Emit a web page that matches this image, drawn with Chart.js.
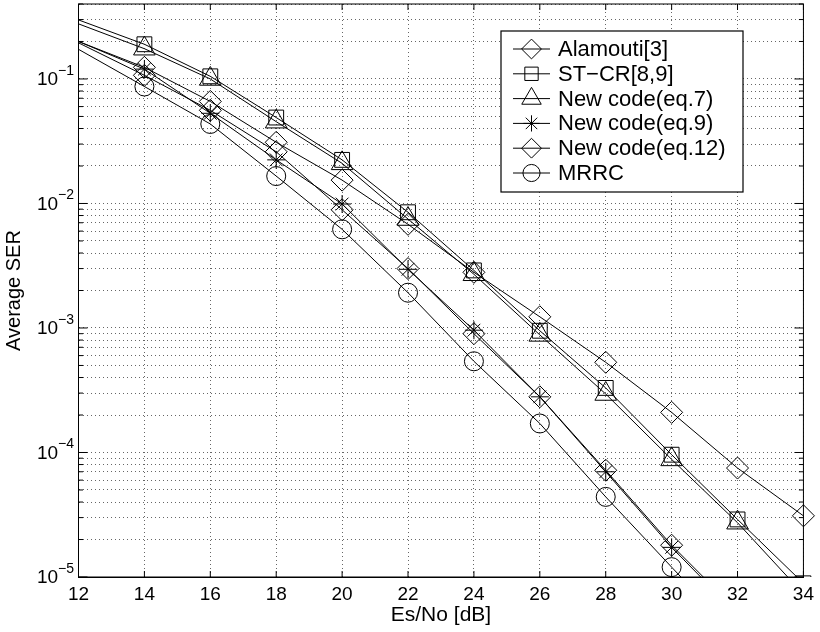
<!DOCTYPE html>
<html>
<head>
<meta charset="utf-8">
<script src="https://cdn.jsdelivr.net/npm/chart.js@4.4.1/dist/chart.umd.min.js"></script>
<style>
  html, body { margin: 0; padding: 0; background: #fff; }
</style>
</head>
<body>
<canvas id="myChart" width="820" height="632"></canvas>
<script>
//////////////////////////////////// DATA

// X axis: Es/No in dB (first point sits on the left edge, no marker there)
var esNo = [12, 14, 16, 18, 20, 22, 24, 26, 28, 30, 32, 34];

// Average SER per curve
var alamouti = [0.2, 0.124, 0.066, 0.031, 0.0154, 0.0068, 0.0028, 0.00123, 5.3e-4, 2.1e-4, 7.5e-5, 3.1e-5];
var stcr     = [0.298, 0.19, 0.105, 0.049, 0.0224, 0.0085, 0.0029, 9.5e-4, 3.3e-4, 9.6e-5, 2.9e-5, 8.9e-6];
var eq7      = [0.277, 0.175, 0.1, 0.0454, 0.021, 0.0075, 0.0027, 8.8e-4, 2.95e-4, 8.8e-5, 2.73e-5, 7.3e-6];
var eq9      = [0.2, 0.12, 0.053, 0.0224, 0.0099, 0.00296, 9.6e-4, 2.8e-4, 7.0e-5, 1.73e-5, 5.0e-6];
var eq12     = [0.195, 0.107, 0.056, 0.026, 0.0089, 0.0030, 9.0e-4, 2.8e-4, 7.2e-5, 1.8e-5, 5.3e-6];
var mrrc     = [0.173, 0.087, 0.0435, 0.0166, 0.0062, 0.00192, 5.4e-4, 1.71e-4, 4.4e-5, 1.2e-5, 3.3e-6];

var seriesLabels = ['Alamouti[3]', 'ST\u2212CR[8,9]', 'New code(eq.7)', 'New code(eq.9)', 'New code(eq.12)', 'MRRC'];

// Y axis decades and their tick labels (10^exp)
var yDecades  = [1e-5, 1e-4, 1e-3, 1e-2, 1e-1];
var yExponents = ['\u22125', '\u22124', '\u22123', '\u22122', '\u22121'];
var yMin = 1e-5;
var yMax = 0.4;

var xMin = 12;
var xMax = 34;
var xStep = 2;

//////////////////////////////////// SETUP

var FONT = "'Liberation Sans', Arial, Helvetica, sans-serif";
Chart.defaults.font.family = FONT;
Chart.defaults.color = '#000';

// minor grid: 1..9 x each decade, up to yMax
var yGrid = [];
yDecades.forEach(function (d) {
    for (var m = 1; m <= 9; m++) {
        var v = m * d;
        if (v <= yMax * 1.0001) yGrid.push(v);
    }
});

function isDecade(v) {
    return yDecades.some(function (d) { return Math.abs(v / d - 1) < 1e-6; });
}

function toPoints(ys) {
    return ys.map(function (y, i) { return { x: esNo[i], y: y }; });
}

// marker per curve: [pointStyle, radius]
var markers = [['rectRot', 11], ['rect', 10.5], ['triangle', 12.5], ['star', 9], ['rectRot', 11], ['circle', 9.5]];
var values = [alamouti, stcr, eq7, eq9, eq12, mrrc];

var datasets = values.map(function (vals, k) {
    var r = markers[k][1];
    return {
        label: seriesLabels[k],
        data: toPoints(vals),
        borderColor: '#000',
        borderWidth: 1,
        pointStyle: markers[k][0],
        pointBorderColor: '#000',
        pointBackgroundColor: 'rgba(0,0,0,0)',
        pointBorderWidth: 1,
        // no marker on the edge point at 12 dB
        pointRadius: function (ctx) { return ctx.dataIndex === 0 ? 0 : r; },
        tension: 0,
        fill: false,
        clip: { left: 0, top: 0, right: 16, bottom: 0 },
        markerRadius: r
    };
});

// box, inward ticks, y tick labels with superscripts, legend
const matlabAxes = {
    id: 'matlabAxes',
    afterDatasetsDraw(chart) {
        const ctx = chart.ctx;
        const { left, right, top, bottom } = chart.chartArea;
        const xs = chart.scales.x, ys = chart.scales.y;
        ctx.save();
        ctx.strokeStyle = '#000';
        ctx.lineWidth = 1;
        ctx.setLineDash([]);
        ctx.strokeRect(left, top, right - left, bottom - top);
        ctx.beginPath();
        for (var v = xMin; v <= xMax; v += xStep) {
            const px = xs.getPixelForValue(v);
            ctx.moveTo(px, bottom); ctx.lineTo(px, bottom - 6);
            ctx.moveTo(px, top); ctx.lineTo(px, top + 6);
        }
        yGrid.forEach(function (v) {
            const py = ys.getPixelForValue(v);
            const len = isDecade(v) ? 9 : 4.5;
            ctx.moveTo(left, py); ctx.lineTo(left + len, py);
            ctx.moveTo(right, py); ctx.lineTo(right - len, py);
        });
        ctx.stroke();

        // y tick labels 10^-n
        ctx.fillStyle = '#000';
        ctx.textBaseline = 'middle';
        ctx.textAlign = 'right';
        yDecades.forEach(function (d, i) {
            const py = ys.getPixelForValue(d);
            const xr = left - 4.5;
            ctx.font = '14px ' + FONT;
            const w = ctx.measureText(yExponents[i]).width;
            ctx.fillText(yExponents[i], xr, py - 8);
            ctx.font = '19px ' + FONT;
            ctx.fillText('10', xr - w, py + 1);
        });
        ctx.restore();
    },
    afterDraw(chart) {
        const ctx = chart.ctx;
        const bx = 501, by = 31, bw = 242, bh = 161;
        ctx.save();
        ctx.fillStyle = '#fff';
        ctx.fillRect(bx, by, bw, bh);
        ctx.strokeStyle = '#000';
        ctx.lineWidth = 1.2;
        ctx.strokeRect(bx, by, bw, bh);
        chart.data.datasets.forEach(function (ds, i) {
            const cy = by + 18 + i * 24.8;
            ctx.lineWidth = 1;
            ctx.beginPath();
            ctx.moveTo(bx + 12, cy);
            ctx.lineTo(bx + 49, cy);
            ctx.stroke();
            ctx.fillStyle = 'rgba(0,0,0,0)';
            Chart.helpers.drawPoint(ctx, {
                pointStyle: ds.pointStyle,
                radius: ds.markerRadius * 0.9,
                borderWidth: 1,
                rotation: 0
            }, bx + 30.5, cy);
            ctx.fillStyle = '#000';
            ctx.font = '22px ' + FONT;
            ctx.textAlign = 'left';
            ctx.textBaseline = 'middle';
            ctx.fillText(ds.label, bx + 57, cy + 1);
        });
        ctx.restore();
    }
};

const config = {
    type: 'line',
    data: { datasets: datasets },
    options: {
        responsive: false,
        animation: false,
        events: [],
        layout: { autoPadding: false, padding: { top: 4, right: 16, left: 0, bottom: 0 } },
        plugins: {
            legend: { display: false },
            tooltip: { enabled: false }
        },
        scales: {
            x: {
                type: 'linear',
                min: xMin,
                max: xMax,
                ticks: {
                    stepSize: xStep,
                    color: '#000',
                    font: { size: 19 },
                    padding: 6,
                    maxRotation: 0
                },
                grid: { color: '#666', lineWidth: 1, drawTicks: false },
                border: { display: true, color: '#000', width: 1, dash: [1, 3] },
                title: {
                    display: true,
                    text: 'Es/No [dB]',
                    color: '#000',
                    font: { size: 21 },
                    padding: { top: 0, bottom: 4 }
                },
                afterFit: function (s) { s.height = 55; }
            },
            y: {
                type: 'logarithmic',
                min: yMin,
                max: yMax,
                afterBuildTicks: function (s) {
                    s.ticks = yGrid.map(function (v) { return { value: v, major: isDecade(v) }; });
                },
                ticks: { display: false },
                grid: { color: '#666', lineWidth: 1, drawTicks: false },
                border: { display: true, color: '#000', width: 1, dash: [1, 3] },
                title: {
                    display: true,
                    text: 'Average SER',
                    color: '#000',
                    font: { size: 20 },
                    padding: { top: 2, bottom: 0 }
                },
                afterFit: function (s) { s.width = 78.5; }
            }
        }
    },
    plugins: [matlabAxes]
};

var myChart = new Chart(document.getElementById('myChart'), config);
</script>
</body>
</html>
